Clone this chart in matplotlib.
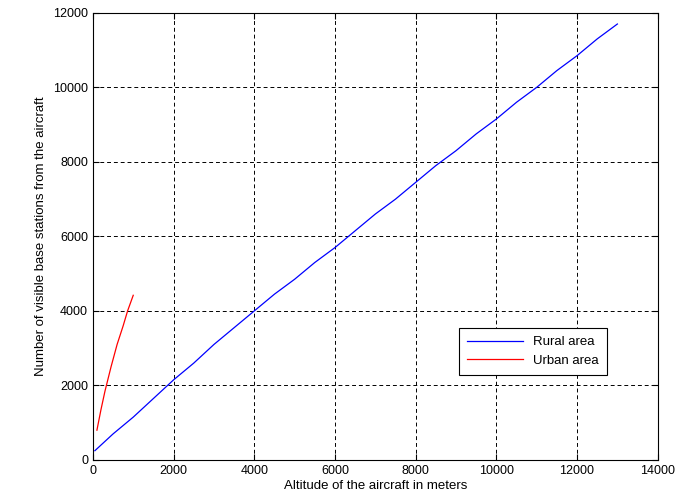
import numpy as np
import matplotlib
matplotlib.use("Agg")
import matplotlib.pyplot as plt

plt.rcParams['font.family'] = ['Liberation Sans', 'DejaVu Sans']

# Rural area (blue)
rural_alt = [50, 500, 1000, 1500, 2000, 2500, 3000, 3500, 4000, 4500, 5000, 5500,
             6000, 6500, 7000, 7500, 8000, 8500, 9000, 9500, 10000, 10500, 11000,
             11500, 12000, 12500, 13000]
rural_bs = [250, 700, 1150, 1650, 2150, 2600, 3100, 3550, 4000, 4450, 4850, 5300,
            5700, 6150, 6600, 7000, 7450, 7900, 8300, 8750, 9150, 9600, 10000,
            10450, 10850, 11300, 11700]

# Urban area (red)
urban_alt = [100, 200, 300, 450, 600, 750, 860, 1000]
urban_bs = [800, 1350, 1850, 2500, 3100, 3600, 4000, 4420]

fig = plt.figure(figsize=(6.83, 5.03), dpi=100)
ax = fig.add_axes([0.136, 0.0855, 0.827, 0.889])

ax.plot(rural_alt, rural_bs, color='blue', linewidth=0.9, label='Rural area')
ax.plot(urban_alt, urban_bs, color='red', linewidth=0.9, label='Urban area')

ax.set_xlim(0, 14000)
ax.set_ylim(0, 12000)
ax.set_xticks(np.arange(0, 14001, 2000))
ax.set_yticks(np.arange(0, 12001, 2000))
ax.grid(True, color='black', linestyle=(0, (4, 3)), linewidth=0.7)
ax.tick_params(direction='in', top=True, right=True, labelsize=9, length=4)
for s in ax.spines.values():
    s.set_linewidth(0.8)

ax.set_xlabel("Altitude of the aircraft in meters", fontsize=9.5, labelpad=2)
ax.set_ylabel("Number of visible base stations from the aircraft", fontsize=9.5, labelpad=4)

leg = ax.legend(loc='upper left', bbox_to_anchor=(0.637, 0.31), fontsize=9.5,
                fancybox=False, edgecolor='black', framealpha=1,
                handlelength=4.2, borderpad=0.6, labelspacing=0.5)
leg.get_frame().set_linewidth(0.8)

fig.savefig("out.png", dpi=100)
